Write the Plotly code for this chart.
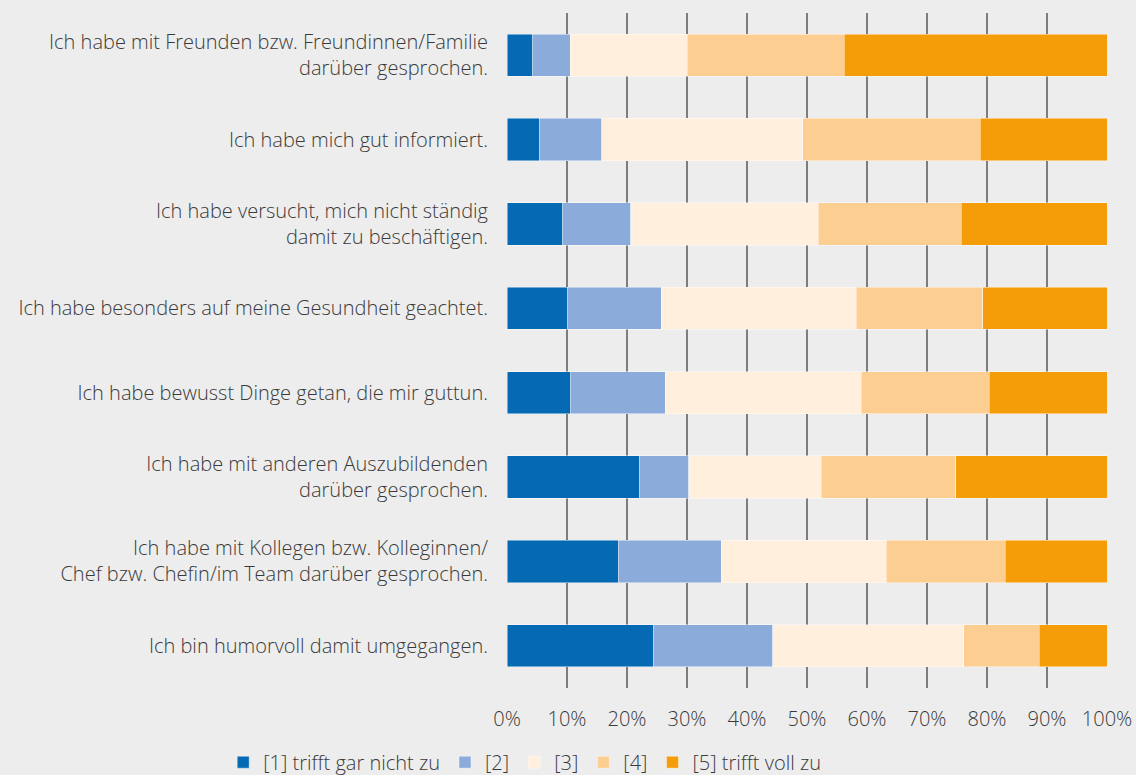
import plotly.graph_objects as go

categories = [
    "Ich habe mit Freunden bzw. Freundinnen/Familie<br>darüber gesprochen.",
    "Ich habe mich gut informiert.",
    "Ich habe versucht, mich nicht ständig<br>damit zu beschäftigen.",
    "Ich habe besonders auf meine Gesundheit geachtet.",
    "Ich habe bewusst Dinge getan, die mir guttun.",
    "Ich habe mit anderen Auszubildenden<br>darüber gesprochen.",
    "Ich habe mit Kollegen bzw. Kolleginnen/<br>Chef bzw. Chefin/im Team darüber gesprochen.",
    "Ich bin humorvoll damit umgegangen.",
]

series_names = ["[1] trifft gar nicht zu", "[2]", "[3]", "[4]", "[5] trifft voll zu"]

s1 = [4.3, 5.4, 9.3, 10.1, 10.6, 22.0, 18.5, 24.4]
s2 = [6.2, 10.4, 11.3, 15.6, 15.8, 8.3, 17.2, 19.9]
s3 = [19.5, 33.5, 31.3, 32.5, 32.6, 22.1, 27.5, 31.8]
s4 = [26.2, 29.6, 23.8, 21.1, 21.4, 22.4, 19.8, 12.6]
s5 = [43.8, 21.1, 24.3, 20.7, 19.6, 25.2, 17.0, 11.3]

tick_vals = [0, 10, 20, 30, 40, 50, 60, 70, 80, 90, 100]
tick_text = ["0%", "10%", "20%", "30%", "40%", "50%", "60%", "70%", "80%", "90%", "100%"]

colors = ["#0569B3", "#8BACDA", "#FFEFDC", "#FCCE92", "#F59C09"]

FONT = "Open Sans, Noto Sans, sans-serif"
TXT = "#3a3a3a"
FS = 20

fig = go.Figure()
for name, vals, col in zip(series_names, [s1, s2, s3, s4, s5], colors):
    fig.add_trace(go.Bar(
        y=categories, x=vals, name=name, orientation="h",
        marker=dict(color=col, line=dict(color="rgba(255,255,255,0.55)", width=0.8)),
    ))

fig.update_layout(
    barmode="stack",
    bargap=0.5,
    width=1136, height=775,
    margin=dict(l=507, r=29, t=13, b=87, autoexpand=False),
    paper_bgcolor="#EDEDED",
    plot_bgcolor="#EDEDED",
    font=dict(family=FONT, size=FS, color=TXT, weight=300),
    legend=dict(
        orientation="h", x=-0.473, xanchor="left", y=-0.081, yanchor="top",
        font=dict(family=FONT, size=FS, color=TXT, weight=300),
        bgcolor="rgba(0,0,0,0)", itemwidth=30, traceorder="normal",
    ),
    xaxis=dict(
        range=[0, 100], tickvals=tick_vals, ticktext=tick_text,
        showgrid=True, gridcolor="#7d7d7d", gridwidth=1.6, zeroline=False,
        showline=False, ticks="", ticklabelstandoff=17,
        tickfont=dict(family=FONT, size=FS, color=TXT, weight=300),
    ),
    yaxis=dict(
        autorange="reversed", showgrid=False, zeroline=False, showline=False,
        ticks="", ticklabelstandoff=18,
        tickfont=dict(family=FONT, size=FS, color=TXT, weight=300),
    ),
)

fig.write_html(
    "out.html",
    config={"displayModeBar": False},
    post_script="document.body.style.margin='0';document.body.style.overflow='hidden';",
)
